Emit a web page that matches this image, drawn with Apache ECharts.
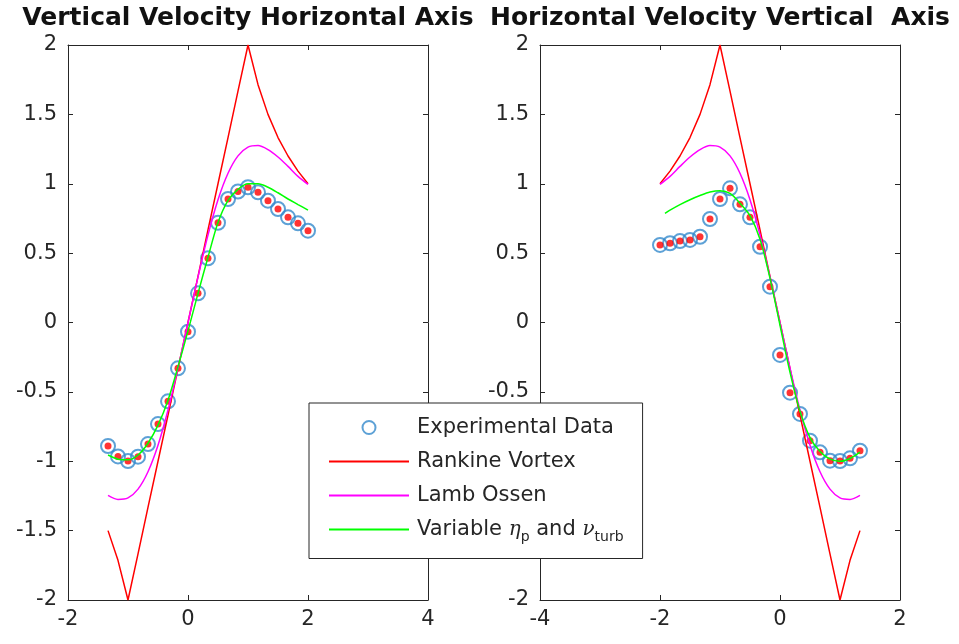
<!DOCTYPE html>
<html>
<head>
<meta charset="utf-8">
<script src="https://cdn.jsdelivr.net/npm/echarts@6/dist/echarts.min.js"></script>
<style>
  html, body { margin: 0; padding: 0; background: #fff; }
  #chart { width: 959px; height: 644px; }
</style>
</head>
<body>
<div id="chart"></div>
<script>
// left panel: vertical velocity along horizontal axis
const xLeft = [-1.333, -1.167, -1, -0.833, -0.667, -0.5, -0.333, -0.167, 0, 0.167, 0.333,
  0.5, 0.667, 0.833, 1, 1.167, 1.333, 1.5, 1.667, 1.833, 2];
const expLeft = [-0.89, -0.965, -0.998, -0.967, -0.876, -0.732, -0.568, -0.33, -0.066, 0.21, 0.463,
  0.719, 0.89, 0.944, 0.975, 0.938, 0.878, 0.818, 0.758, 0.715, 0.662];
const rankineLeft = [-1.5, -1.714, -2, -1.667, -1.333, -1, -0.667, -0.333, 0, 0.333, 0.667,
  1, 1.333, 1.667, 2, 1.714, 1.5, 1.333, 1.2, 1.091, 1.0];
const lambLeft = [-1.246, -1.275, -1.264, -1.201, -1.076, -0.885, -0.631, -0.329, 0, 0.329, 0.631,
  0.885, 1.076, 1.201, 1.264, 1.275, 1.246, 1.193, 1.125, 1.053, 0.995];
const varLeft = [-0.955, -0.985, -0.99, -0.955, -0.87, -0.74, -0.56, -0.32, -0.06, 0.21, 0.47,
  0.72, 0.88, 0.96, 1.0, 1.0, 0.975, 0.935, 0.89, 0.85, 0.81];

// right panel: horizontal velocity along vertical axis
const xRight = [-2, -1.833, -1.667, -1.5, -1.333, -1.167, -1, -0.833, -0.667, -0.5, -0.333,
  -0.167, 0, 0.167, 0.333, 0.5, 0.667, 0.833, 1, 1.167, 1.333];
const expRight = [0.559, 0.571, 0.587, 0.595, 0.618, 0.746, 0.89, 0.967, 0.852, 0.758, 0.546,
  0.258, -0.234, -0.506, -0.659, -0.852, -0.936, -0.996, -0.998, -0.979, -0.924];
const rankineRight = [1.0, 1.091, 1.2, 1.333, 1.5, 1.714, 2, 1.667, 1.333, 1, 0.667,
  0.333, 0, -0.333, -0.667, -1, -1.333, -1.667, -2, -1.714, -1.5];
const lambRight = [0.995, 1.053, 1.125, 1.193, 1.246, 1.275, 1.264, 1.201, 1.076, 0.885, 0.631,
  0.329, 0, -0.329, -0.631, -0.885, -1.076, -1.201, -1.264, -1.275, -1.246];
const xVarRight = [-1.917, -1.833, -1.667, -1.5, -1.333, -1.167, -1, -0.833, -0.667, -0.5, -0.333,
  -0.167, 0, 0.167, 0.333, 0.5, 0.667, 0.833, 1, 1.167, 1.333];
const varRight = [0.787, 0.81, 0.85, 0.885, 0.915, 0.94, 0.95, 0.93, 0.86, 0.77, 0.6,
  0.32, -0.02, -0.36, -0.64, -0.83, -0.93, -0.985, -1.0, -0.98, -0.935];

const titles = ["Vertical Velocity Horizontal Axis", "Horizontal Velocity Vertical  Axis"];
const xRanges = [[-2, 4], [-4, 2]];
const legendNames = ["Experimental Data", "Rankine Vortex", "Lamb Ossen", "Variable"];

const pairs = (xs, ys) => xs.map((x, i) => [x, ys[i]]);

const FONT = "DejaVu Sans";
const INK = "#262626";
const BLUE = "#3589cc";

const grids = [
  { left: 68, top: 45, width: 360, height: 555 },
  { left: 540, top: 45, width: 360, height: 555 },
];

const xAxes = [];
const yAxes = [];
[0, 1].forEach((g) => {
  ["bottom", "top"].forEach((pos) => {
    xAxes.push({
      type: "value",
      gridIndex: g,
      position: pos,
      min: xRanges[g][0],
      max: xRanges[g][1],
      interval: 2,
      splitLine: { show: false },
      axisLine: { onZero: false, lineStyle: { color: INK, width: 1 } },
      axisTick: { inside: true, length: 5, lineStyle: { color: INK } },
      axisLabel: {
        show: pos === "bottom",
        color: INK,
        fontFamily: FONT,
        fontSize: 21,
        margin: 9,
      },
    });
  });
  ["left", "right"].forEach((pos) => {
    yAxes.push({
      type: "value",
      gridIndex: g,
      position: pos,
      min: -2,
      max: 2,
      interval: 0.5,
      splitLine: { show: false },
      axisLine: { onZero: false, lineStyle: { color: INK, width: 1 } },
      axisTick: { inside: true, length: 5, lineStyle: { color: INK } },
      axisLabel: {
        show: pos === "left",
        color: INK,
        fontFamily: FONT,
        fontSize: 21,
        margin: 11,
      },
    });
  });
});

function panelSeries(g, xs, exp, rank, lamb, xv, vr) {
  const ax = g * 2;
  const line = (name, ys, color, smooth, xsLine) => ({
    name,
    type: "line",
    xAxisIndex: ax,
    yAxisIndex: ax,
    data: pairs(xsLine || xs, ys),
    smooth,
    showSymbol: false,
    symbol: "none",
    lineStyle: { color, width: 1.5 },
    itemStyle: { color },
    z: 3,
  });
  return [
    {
      name: "Experimental Data",
      type: "scatter",
      xAxisIndex: ax,
      yAxisIndex: ax,
      data: pairs(xs, exp),
      symbol: "circle",
      symbolSize: 14,
      itemStyle: { color: "rgba(255,255,255,0)", borderColor: BLUE, borderWidth: 2 },
      z: 2,
    },
    {
      name: "dots",
      type: "scatter",
      xAxisIndex: ax,
      yAxisIndex: ax,
      data: pairs(xs, exp),
      symbol: "circle",
      symbolSize: 7,
      itemStyle: { color: "#ff0000" },
      z: 2,
    },
    line("Rankine Vortex", rank, "#ff0000", false),
    line("Lamb Ossen", lamb, "#ff00ff", 0.3),
    line("Variable", vr, "#00ff00", 0.3, xv),
  ];
}

const chart = echarts.init(document.getElementById("chart"), null, { renderer: "canvas" });

chart.setOption({
  animation: false,
  backgroundColor: "#ffffff",
  title: titles.map((t, i) => ({
    text: t,
    left: grids[i].left + grids[i].width / 2,
    top: 6,
    padding: 0,
    textAlign: "center",
    textStyle: { fontFamily: FONT, fontWeight: "bold", fontSize: 25, color: "#111" },
  })),
  grid: grids,
  xAxis: xAxes,
  yAxis: yAxes,
  legend: {
    data: legendNames.map((n, i) => (i === 0 ? { name: n } : { name: n, itemStyle: { opacity: 0 } })),
    orient: "vertical",
    left: 309,
    top: 403,
    itemWidth: 80,
    itemHeight: 13,
    itemGap: 13,
    padding: [14, 19, 14, 19],
    backgroundColor: "#ffffff",
    borderColor: INK,
    borderWidth: 1,
    borderRadius: 0,
    z: 10,
    selectedMode: false,
    textStyle: {
      fontFamily: FONT,
      fontSize: 21,
      color: INK,
      padding: [0, 0, 0, 3],
      rich: {
        t: { fontFamily: FONT, fontSize: 21, color: INK, lineHeight: 30, verticalAlign: "middle" },
        g: { fontFamily: "DejaVu Serif", fontStyle: "italic", fontSize: 20, color: INK, lineHeight: 30, verticalAlign: "middle" },
        s: { fontFamily: FONT, fontSize: 14, color: INK, lineHeight: 12, verticalAlign: "bottom" },
      },
    },
    formatter: (name) =>
      name === "Variable"
        ? "{t|Variable }{g|η}{s|p}{t| and }{g|ν}{s|turb}"
        : name,
  },
  series: [
    ...panelSeries(0, xLeft, expLeft, rankineLeft, lambLeft, xLeft, varLeft),
    ...panelSeries(1, xRight, expRight, rankineRight, lambRight, xVarRight, varRight),
  ],
});

window.addEventListener("resize", () => chart.resize());
</script>
</body>
</html>
